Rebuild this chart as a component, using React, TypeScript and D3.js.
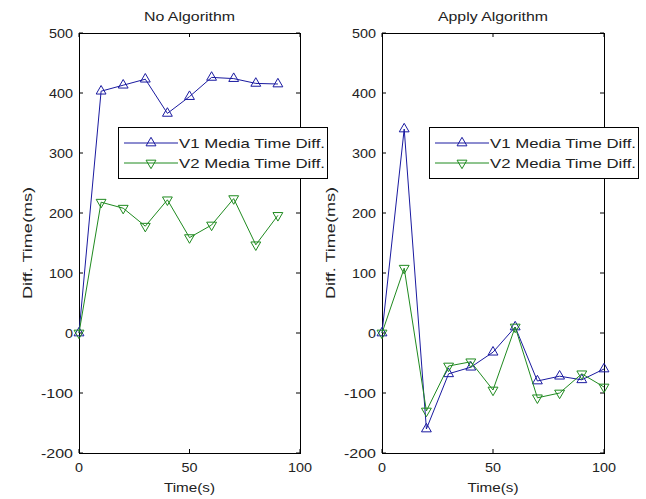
import { useEffect, useRef } from "react";
import * as d3 from "d3";

// time axis (s)
const timeLeft = [0, 10, 20, 30, 40, 50, 60, 70, 80, 90];
const timeRight = [0, 10, 20, 30, 40, 50, 60, 70, 80, 90, 100];

// No Algorithm
const v1NoAlg = [0, 403, 413, 423, 366, 394, 426, 424, 416, 415];
const v2NoAlg = [0, 218, 208, 178, 222, 159, 180, 224, 147, 196];

// Apply Algorithm
const v1Alg = [0, 340, -160, -68, -57, -32, 10, -80, -72, -78, -60];
const v2Alg = [0, 108, -130, -55, -48, -95, 10, -108, -100, -68, -90];

const titles = ["No Algorithm", "Apply Algorithm"];
const seriesNames = ["V1 Media Time Diff.", "V2 Media Time Diff."];
const yTicks = [-200, -100, 0, 100, 200, 300, 400, 500];
const xTicks = [0, 50, 100];

const BLUE = "#1a1aa0";
const GREEN = "#1f8a1f";
const INK = "#222";
const FONT = "Liberation Sans, Arial, sans-serif";

const W = 646, H = 499;

const panels = [
  { x0: 79, x1: 300, title: titles[0], titleLen: 91, t: timeLeft, a: v1NoAlg, b: v2NoAlg, legX: 118 },
  { x0: 382, x1: 604, title: titles[1], titleLen: 110, t: timeRight, a: v1Alg, b: v2Alg, legX: 429 },
];

export default function App() {
  const ref = useRef<SVGSVGElement | null>(null);

  useEffect(() => {
    if (!ref.current) return;
    const svg = d3.select(ref.current);
    svg.selectAll("*").remove();
    svg.append("rect").attr("width", W).attr("height", H).attr("fill", "#ffffff");

    const yTop = 33, yBot = 453;
    const y = d3.scaleLinear().domain([-200, 500]).range([yBot, yTop]);
    const tri = d3.symbol().type(d3.symbolTriangle).size(42);

    panels.forEach(p => {
      const x = d3.scaleLinear().domain([0, 100]).range([p.x0, p.x1]);
      const g = svg.append("g");

      // inward ticks on all four sides
      yTicks.forEach(v => {
        g.append("line").attr("x1", p.x0).attr("x2", p.x0 + 4).attr("y1", y(v)).attr("y2", y(v)).attr("stroke", "#000");
        g.append("line").attr("x1", p.x1).attr("x2", p.x1 - 4).attr("y1", y(v)).attr("y2", y(v)).attr("stroke", "#000");
        g.append("text").attr("x", p.x0 - 6).attr("y", y(v)).attr("dy", "0.36em")
          .attr("text-anchor", "end").attr("font-size", 13.5).attr("font-family", FONT).attr("fill", INK)
          .attr("textLength", String(v).length * 8).attr("lengthAdjust", "spacingAndGlyphs").text(v);
      });
      xTicks.forEach(v => {
        g.append("line").attr("x1", x(v)).attr("x2", x(v)).attr("y1", yBot).attr("y2", yBot - 4).attr("stroke", "#000");
        g.append("line").attr("x1", x(v)).attr("x2", x(v)).attr("y1", yTop).attr("y2", yTop + 4).attr("stroke", "#000");
        g.append("text").attr("x", x(v)).attr("y", yBot + 19)
          .attr("text-anchor", "middle").attr("font-size", 13.5).attr("font-family", FONT).attr("fill", INK)
          .attr("textLength", String(v).length * 8).attr("lengthAdjust", "spacingAndGlyphs").text(v);
      });

      g.append("rect").attr("x", p.x0 + 0.5).attr("y", yTop + 0.5)
        .attr("width", p.x1 - p.x0).attr("height", yBot - yTop)
        .attr("fill", "none").attr("stroke", "#000");

      g.append("text").attr("x", (p.x0 + p.x1) / 2).attr("y", 21).attr("text-anchor", "middle")
        .attr("font-size", 13.5).attr("font-family", FONT).attr("fill", INK)
        .attr("textLength", p.titleLen).attr("lengthAdjust", "spacingAndGlyphs").text(p.title);
      g.append("text").attr("x", (p.x0 + p.x1) / 2).attr("y", 492).attr("text-anchor", "middle")
        .attr("font-size", 13.5).attr("font-family", FONT).attr("fill", INK)
        .attr("textLength", 51).attr("lengthAdjust", "spacingAndGlyphs").text("Time(s)");
      g.append("text").attr("transform", `translate(${p.x0 - 47},${(yTop + yBot) / 2}) rotate(-90)`)
        .attr("text-anchor", "middle").attr("font-size", 13).attr("font-family", FONT).attr("fill", INK)
        .attr("textLength", 112).attr("lengthAdjust", "spacingAndGlyphs").text("Diff. Time(ms)");

      const line = d3.line<number>().x((_, i) => x(p.t[i])).y(d => y(d));
      [[p.a, BLUE, 0], [p.b, GREEN, 180]].forEach(([vals, col, rot]: any) => {
        g.append("path").datum(vals).attr("d", line).attr("fill", "none").attr("stroke", col).attr("stroke-width", 1);
        g.selectAll(null).data(vals).join("path")
          .attr("d", tri())
          .attr("transform", (d: any, i: number) => `translate(${x(p.t[i])},${y(d)}) rotate(${rot})`)
          .attr("fill", "none").attr("stroke", col).attr("stroke-width", 1);
      });

      // legend
      const lg = g.append("g").attr("transform", `translate(${p.legX},127)`);
      lg.append("rect").attr("x", 0.5).attr("y", 0.5).attr("width", 209).attr("height", 51)
        .attr("fill", "#fff").attr("stroke", "#000");
      [[BLUE, 0], [GREEN, 180]].forEach(([col, rot]: any, i) => {
        const ly = 16 + i * 20;
        lg.append("line").attr("x1", 6).attr("x2", 60).attr("y1", ly).attr("y2", ly).attr("stroke", col);
        lg.append("path").attr("d", tri()).attr("transform", `translate(33,${ly}) rotate(${rot})`)
          .attr("fill", "none").attr("stroke", col);
        lg.append("text").attr("x", 61).attr("y", ly).attr("dy", "0.36em")
          .attr("font-size", 13.5).attr("font-family", FONT).attr("fill", INK)
          .attr("textLength", 146).attr("lengthAdjust", "spacingAndGlyphs").text(seriesNames[i]);
      });
    });
  }, []);

  return <svg ref={ref} width={W} height={H} style={{ position: "absolute", left: 0, top: 0, display: "block" }} />;
}
